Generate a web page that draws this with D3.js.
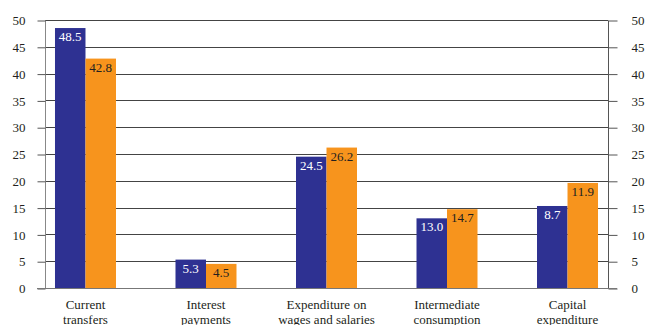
<!DOCTYPE html>
<html><head><meta charset="utf-8">
<script src="https://cdn.jsdelivr.net/npm/d3@7"></script>
<style>body{margin:0;background:#fff}svg{display:block}text{font-family:"Liberation Serif","Times New Roman",serif}</style>
</head><body><svg id="c" width="646" height="325"></svg>
<script>
const categories = [["Current","transfers"],["Interest","payments"],["Expenditure on","wages and salaries"],["Intermediate","consumption"],["Capital","expenditure"]];
const seriesA = [48.5, 5.3, 24.5, 13.0, 15.3];
const seriesB = [42.8, 4.5, 26.2, 14.7, 19.6];
const labelsA = ["48.5","5.3","24.5","13.0","8.7"];
const labelsB = ["42.8","4.5","26.2","14.7","11.9"];
const yTicks = [0,5,10,15,20,25,30,35,40,45,50];
const colorA = "#2e3192", colorB = "#f7941d";

const svg = d3.select("#c");
const L = 45, R = 608, T = 20, B = 288;
const y = d3.scaleLinear().domain([0,50]).range([B,T]);
const x = d3.scalePoint().domain(d3.range(categories.length)).range([L,R]).padding(0.336);
const bw = 30.5;

// gridlines
svg.append("g").selectAll("line").data(yTicks.filter(d=>d>0)).join("line")
  .attr("x1",L).attr("x2",R).attr("y1",d=>Math.round(y(d))+0.5).attr("y2",d=>Math.round(y(d))+0.5)
  .attr("stroke","#444").attr("stroke-width",1);

// left axis
const la = svg.append("g").attr("transform",`translate(${L+0.5},0.5)`)
  .call(d3.axisLeft(y).tickValues(yTicks).tickSize(8).tickPadding(12).tickFormat(d3.format("d")));
la.select(".domain").attr("stroke","#888").attr("d",`M0,${T}V${B}`);
la.selectAll(".tick line").attr("stroke","#555");
la.selectAll("text").attr("font-size",13).attr("fill","#231f20");
// right axis
const ra = svg.append("g").attr("transform",`translate(${R+0.5},0.5)`)
  .call(d3.axisRight(y).tickValues(yTicks).tickSize(9).tickPadding(14).tickFormat(d3.format("d")));
ra.select(".domain").attr("stroke","#555").attr("d",`M0,${T}V${B}`);
ra.selectAll(".tick line").attr("stroke","#555");
ra.selectAll("text").attr("font-size",13).attr("fill","#231f20");

// bars
const g = svg.append("g");
categories.forEach((c,i)=>{
  const cx = x(i);
  g.append("rect").attr("x",cx-bw).attr("width",bw).attr("y",y(seriesA[i])).attr("height",B-y(seriesA[i])).attr("fill",colorA);
  g.append("rect").attr("x",cx).attr("width",bw).attr("y",y(seriesB[i])).attr("height",B-y(seriesB[i])).attr("fill",colorB);
  g.append("text").attr("x",cx-bw/2).attr("y",y(seriesA[i])+13).attr("text-anchor","middle").attr("font-size",13).attr("fill","#fff").text(labelsA[i]);
  g.append("text").attr("x",cx+bw/2).attr("y",y(seriesB[i])+13).attr("text-anchor","middle").attr("font-size",13).attr("fill","#231f20").text(labelsB[i]);
  const t = svg.append("text").attr("text-anchor","middle").attr("font-size",13).attr("fill","#231f20");
  c.forEach((line,k)=>t.append("tspan").attr("x",cx).attr("y",309+k*15).text(line));
});
// baseline
svg.append("line").attr("x1",L-8).attr("x2",R+9).attr("y1",B+0.5).attr("y2",B+0.5).attr("stroke","#777");
</script></body></html>
